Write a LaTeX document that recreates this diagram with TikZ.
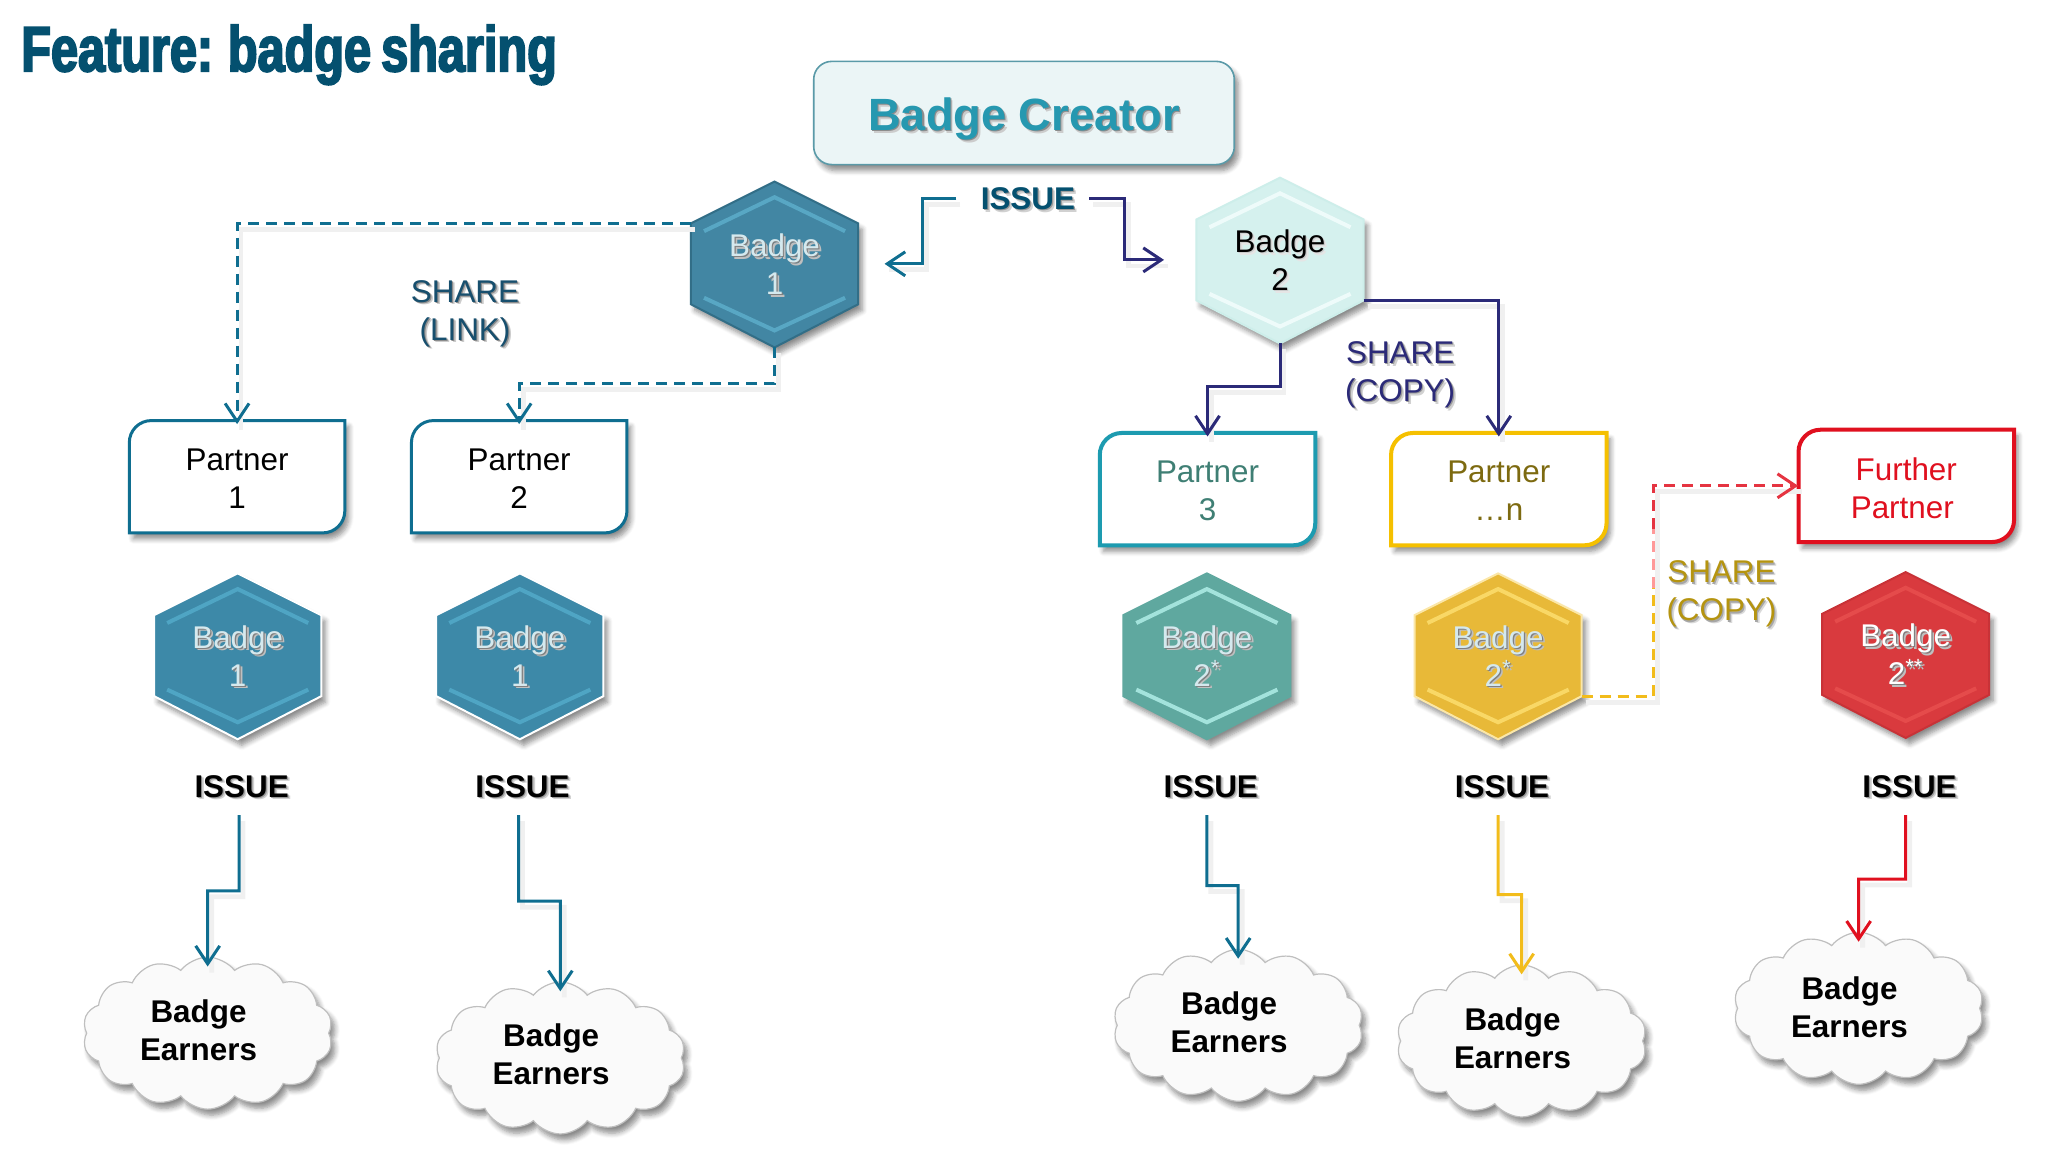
\documentclass[tikz,border=0pt]{standalone}
\usepackage{fontspec}
\setmainfont{Liberation Sans}
\newfontfamily\titlefont{Liberation Sans}[UprightFont=* Bold,FakeStretch=0.76,FakeBold=3,WordSpace=0.75]
\usetikzlibrary{arrows.meta,shapes.symbols,shadows.blur}

\definecolor{titleblue}{HTML}{04506F}
\definecolor{linkteal}{HTML}{0F6E90}
\definecolor{copynavy}{HTML}{2B2A78}
\definecolor{amber}{HTML}{F2BC1B}
\definecolor{redline}{HTML}{E0101F}
\definecolor{creatorfill}{HTML}{EBF5F6}
\definecolor{creatoredge}{HTML}{5A9AA8}
\definecolor{creatortext}{HTML}{2698B0}
\definecolor{sharelinktext}{HTML}{174F6E}
\definecolor{sharegold}{HTML}{B59410}
\definecolor{partnerC}{HTML}{1D9BB0}
\definecolor{partnerCtext}{HTML}{3F7F74}
\definecolor{partnerD}{HTML}{F5C000}
\definecolor{partnerDtext}{HTML}{7D6A10}
\definecolor{blueA}{HTML}{4286A3}
\definecolor{blueAline}{HTML}{58A7C4}
\definecolor{blueAedge}{HTML}{326E87}
\definecolor{blueB}{HTML}{3D89A8}
\definecolor{blueBline}{HTML}{4FA5C4}
\definecolor{paletwo}{HTML}{D5F1EE}
\definecolor{paletwoline}{HTML}{EEFBFA}
\definecolor{paletwoedge}{HTML}{CDEEEA}
\definecolor{greenC}{HTML}{5FA89F}
\definecolor{greenCline}{HTML}{A3E3DC}
\definecolor{goldD}{HTML}{E8B938}
\definecolor{goldDline}{HTML}{F9D866}
\definecolor{goldDedge}{HTML}{FBE7A8}
\definecolor{redE}{HTML}{D93A3E}
\definecolor{redEline}{HTML}{E54B4B}
\definecolor{redEedge}{HTML}{C83237}
\definecolor{hextext}{HTML}{D5E9EE}

\newcommand{\shtxt}[3]{\leavevmode\rlap{\raisebox{-1.4pt}[0pt][0pt]{\hspace{1.4pt}\textcolor{#2}{#3}}}\rlap{\raisebox{-.6pt}[0pt][0pt]{\hspace{.6pt}\textcolor{#1}{#3}}}#3}
\newcommand{\hexlabel}[1]{\shtxt{black!50}{black!25}{Badge}\\\shtxt{black!50}{black!25}{#1}}

\tikzset{
  softshadow/.style={blur shadow={shadow xshift=2pt,shadow yshift=-3pt,shadow blur radius=2.5pt,shadow blur steps=6,shadow opacity=45}},
  label/.style={font=\fontsize{15.7}{19}\selectfont,align=center,inner sep=0pt},
  boldlabel/.style={label,font=\fontsize{15.7}{19}\selectfont\bfseries},
  hexnode/.style={label,minimum width=83.6pt,minimum height=83pt},
  boxnode/.style={label,minimum width=107.7pt,minimum height=54.2pt},
  lineshadow/.style={preaction={draw=black!6,line width=2.4pt,-,transform canvas={xshift=2pt,yshift=-3pt}}},
  link/.style={draw=linkteal,line width=1.5pt,lineshadow},
  dashlink/.style={link,dash pattern=on 5.5pt off 3.5pt},
  barb/.style={-{Straight Barb[length=9pt,width=12pt]}},
  cloudy/.style={cloud,cloud puffs=14,cloud puff arc=105,aspect=1.65,minimum width=125pt,minimum height=76pt,inner sep=0pt,
    draw=black!25,line width=.6pt,fill=black!2,softshadow}
}

\newcommand{\hexbadge}[7]{
  \begin{scope}[shift={(#2)}]
    \coordinate (#1-nw) at (-64,-31);
    \coordinate (#1-sw) at (-64,31);
    \coordinate (#1-ne) at (64,-31);
    \coordinate (#1-se) at (64,31);
    \draw[fill=#3,draw=#5,line width=1pt,softshadow] (0,-63) -- (#1-ne) -- (#1-se) -- (0,64) -- (#1-sw) -- (#1-nw) -- cycle;
    \draw[draw=#4,line width=2pt] (-54,-25) -- (0,-51) -- (54,-25);
    \draw[draw=#4,line width=2pt] (-54,26) -- (0,51) -- (54,26);
    \node[hexnode,text=#6] (#1) at (0,0) {#7};
  \end{scope}
}

\newcommand{\partnerbox}[6]{
  \begin{scope}[shift={(#2)}]
    \draw[draw=#3,fill=white,line width=#4,softshadow] (-82.5,43) [rounded corners=11pt] -- (-82.5,-43) [sharp corners] -- (82.5,-43) [rounded corners=11pt] -- (82.5,43) [sharp corners] -- cycle;
    \node[boxnode,text=#5] (#1) at (0,1.5) {#6};
  \end{scope}
}

\begin{document}
\begin{tikzpicture}[x=0.653pt,y=-0.653pt]
\useasboundingbox (0,0) rectangle (1568,882);

\node[anchor=west,inner sep=0pt,text=titleblue,font=\titlefont\fontsize{32}{36}\selectfont] (title) at (16,42) {Feature: badge sharing};

\draw[draw=creatoredge,fill=creatorfill,line width=.8pt,rounded corners=9pt,softshadow] (623,47) rectangle (945,126);
\node[inner sep=0pt,font=\fontsize{22.6}{26}\selectfont\bfseries,text=creatortext] (creator) at (784,91) {\shtxt{black!45}{black!20}{Badge Creator}};
\node[boldlabel,text=titleblue] (issuetop) at (787,152) {\shtxt{black!40}{black!18}{ISSUE}};

\hexbadge{badgeone}{593,202}{blueA}{blueAline}{blueAedge}{hextext}{\hexlabel{1}}
\hexbadge{badgetwo}{980,199}{paletwo}{paletwoline}{paletwoedge}{black}{\shtxt{black!20}{black!10}{Badge}\\\shtxt{black!20}{black!10}{2}}

\hexbadge{badgeA}{182,502}{blueB}{blueBline}{white}{hextext}{\hexlabel{1}}
\hexbadge{badgeB}{398,502}{blueB}{blueBline}{white}{hextext}{\hexlabel{1}}
\hexbadge{badgeC}{924,502}{greenC}{greenCline}{greenC}{hextext}{\hexlabel{2\textsuperscript{*}}}
\hexbadge{badgeD}{1147,502}{goldD}{goldDline}{goldDedge}{hextext}{\hexlabel{2\textsuperscript{*}}}
\hexbadge{badgeE}{1459,501}{redE}{redEline}{redEedge}{white}{\hexlabel{2\textsuperscript{**}}}

\partnerbox{partA}{181.5,365}{linkteal}{1.5pt}{black}{Partner\\1}
\partnerbox{partB}{397.5,365}{linkteal}{1.5pt}{black}{Partner\\2}
\partnerbox{partC}{924.5,374.5}{partnerC}{2pt}{partnerCtext}{Partner\\3}
\partnerbox{partD}{1147.5,374.5}{partnerD}{2pt}{partnerDtext}{Partner\\…n}
\partnerbox{partE}{1459.5,372}{redline}{2pt}{redline}{Further\\Partner\hspace*{4pt}}

\node[label,text=sharelinktext] (sharelink) at (356,240) {\shtxt{black!45}{black!20}{SHARE}\\\shtxt{black!45}{black!20}{(LINK)}};
\node[label,text=copynavy] (sharecopy) at (1072,287) {\shtxt{black!40}{black!18}{SHARE}\\\shtxt{black!40}{black!18}{(COPY)}};
\node[label,text=sharegold] (sharecopytwo) at (1318,455) {\shtxt{black!35}{black!15}{SHARE}\\\shtxt{black!35}{black!15}{(COPY)}};

\foreach \n/\x/\fx/\cx/\cy/\tx/\ty in {A/185/183/159/791/152/789,B/400/397/429/810/422/807,C/927/924/948/785/941/783,D/1150/1147/1165/797/1158/795,E/1462/1459/1423/772/1416/771} {
  \node[boldlabel] (issue\n) at (\x,602) {\shtxt{black!40}{black!18}{ISSUE}};
  \coordinate (foot\n) at (\fx,624);
  \node[cloudy] (cloud\n) at (\cx,\cy) {};
  \node[boldlabel] (earn\n) at (\tx,\ty) {Badge\\Earners};
}

\draw[link,barb,shorten <=12pt,shorten >=13pt] (issuetop.west) -- (706,152) -- (706,202) -- (badgeone.east);
\draw[link,barb,draw=copynavy,shorten <=7pt,shorten >=16pt] (issuetop.east) -- (861,152) -- (861,199) -- (badgetwo.west);

\draw[dashlink,barb] (badgeone-nw) -| (partA.north);
\draw[dashlink,barb] (badgeone.south) -- ++(0,28) -| (partB.north);

\draw[link,barb,draw=copynavy] (badgetwo.south) -- ++(0,33) -| (partC.north);
\draw[link,barb,draw=copynavy] (badgetwo-se) -| (partD.north);

\coordinate (midA) at (1266,405);
\coordinate (midB) at (1266,450);
\draw[dashlink,draw=amber] (badgeD-se) -| (midB);
\draw[dashlink,draw=red!40!white] (midB) -- (midA);
\draw[dashlink,barb,draw=redline!85!white] (midA) |- ([yshift=1pt]partE.west);

\draw[link,barb] (footA) -- (183,682) -- (159,682) -- ([yshift=-5pt]cloudA.north);
\draw[link,barb] (footB) -- (397,690) -- (429,690) -- ([yshift=-5pt]cloudB.north);
\draw[link,barb] (footC) -- (924,678) -- (948,678) -- ([yshift=-5pt]cloudC.north);
\draw[link,barb,draw=amber] (footD) -- (1147,685) -- (1165,685) -- ([yshift=-5pt]cloudD.north);
\draw[link,barb,draw=redline] (footE) -- (1459,673) -- (1423,673) -- ([yshift=-5pt]cloudE.north);
\end{tikzpicture}
\end{document}
